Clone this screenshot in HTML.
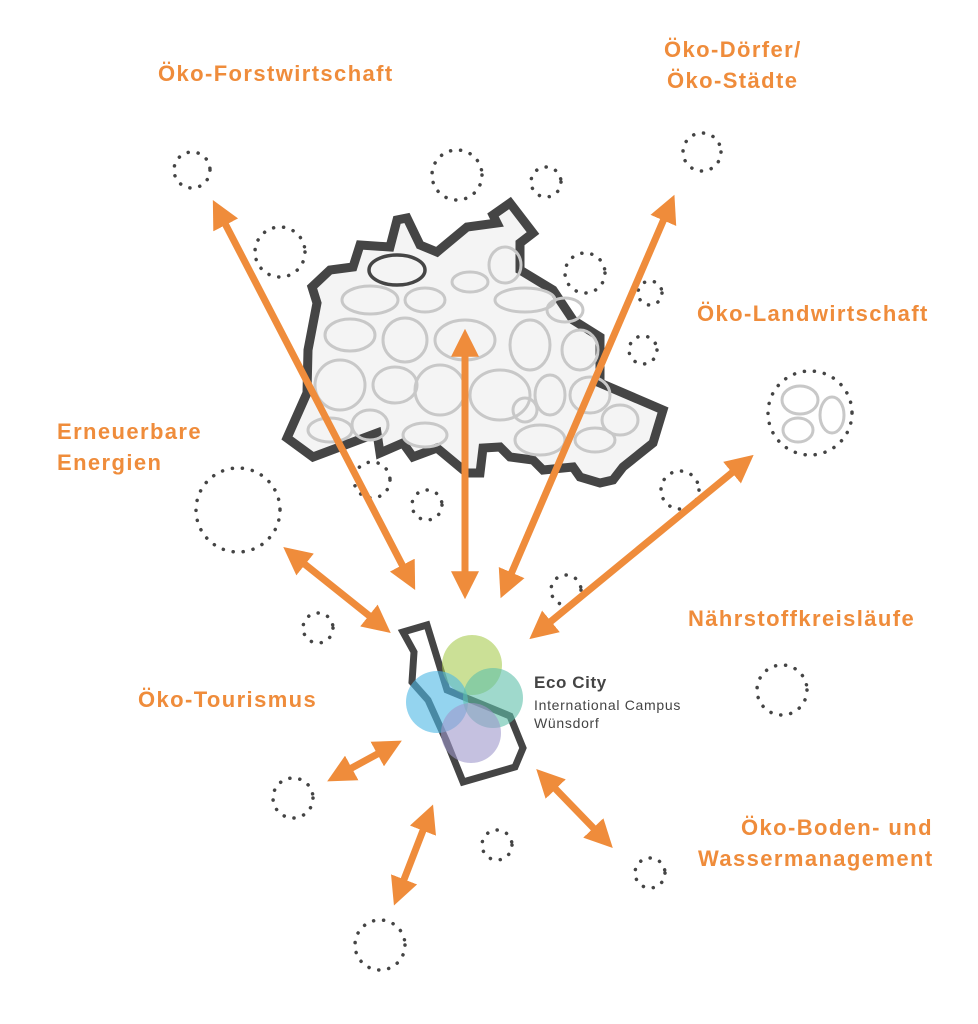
<!DOCTYPE html>
<html><head><meta charset="utf-8"><style>
html,body{margin:0;padding:0;background:#fff}
svg{display:block}
.t{font-family:"Liberation Sans",sans-serif;font-weight:bold;fill:#ef8c3b;font-size:22px;letter-spacing:1.4px}
.d{fill:none;stroke:#444;stroke-width:3.5;stroke-dasharray:0.1 10;stroke-linecap:round}
.b{fill:none;stroke:#c8c8c8;stroke-width:3}
</style></head><body>
<svg width="978" height="1024" viewBox="0 0 978 1024" xmlns="http://www.w3.org/2000/svg">
<defs>
<marker id="ah" viewBox="0 0 10 10" refX="6" refY="5" markerWidth="4" markerHeight="4" orient="auto-start-reverse"><path d="M0,0 L10,5 L0,10 z" fill="#ef8c3b"/></marker>
</defs>
<polygon points="287,438 313,457 377,433 380,453 403,443 413,457 437,448 467,473 480,473 483,448 500,447 510,457 533,460 543,470 573,467 580,477 600,483 613,480 623,467 653,443 663,410 600,383 600,337 573,320 553,290 520,270 520,243 533,233 510,203 493,215 497,223 467,227 437,252 420,245 407,218 397,220 390,247 360,245 353,267 330,270 312,287 317,303 308,350 307,393" fill="#f4f4f4" stroke="#454545" stroke-width="9" stroke-linejoin="miter"/>
<g class="b">
<ellipse cx="370" cy="300" rx="28" ry="14"/><ellipse cx="425" cy="300" rx="20" ry="12"/><ellipse cx="470" cy="282" rx="18" ry="10"/>
<ellipse cx="505" cy="265" rx="16" ry="18"/><ellipse cx="525" cy="300" rx="30" ry="12"/><ellipse cx="565" cy="310" rx="18" ry="12"/>
<ellipse cx="350" cy="335" rx="25" ry="16"/><ellipse cx="405" cy="340" rx="22" ry="22"/><ellipse cx="465" cy="340" rx="30" ry="20"/>
<ellipse cx="530" cy="345" rx="20" ry="25"/><ellipse cx="580" cy="350" rx="18" ry="20"/><ellipse cx="340" cy="385" rx="25" ry="25"/>
<ellipse cx="395" cy="385" rx="22" ry="18"/><ellipse cx="440" cy="390" rx="25" ry="25"/><ellipse cx="500" cy="395" rx="30" ry="25"/>
<ellipse cx="550" cy="395" rx="15" ry="20"/><ellipse cx="590" cy="395" rx="20" ry="18"/><ellipse cx="620" cy="420" rx="18" ry="15"/>
<ellipse cx="330" cy="430" rx="22" ry="12"/><ellipse cx="370" cy="425" rx="18" ry="15"/><ellipse cx="425" cy="435" rx="22" ry="12"/>
<ellipse cx="540" cy="440" rx="25" ry="15"/><ellipse cx="595" cy="440" rx="20" ry="12"/><ellipse cx="525" cy="410" rx="12" ry="12"/>
</g>
<ellipse cx="397" cy="270" rx="28" ry="15" fill="none" stroke="#454545" stroke-width="3.5"/>
<g class="d">
<circle cx="192" cy="170" r="18"/><circle cx="280" cy="252" r="25"/><circle cx="457" cy="175" r="25"/><circle cx="546" cy="182" r="15"/>
<circle cx="702" cy="152" r="19"/><circle cx="585" cy="273" r="20"/><circle cx="643" cy="350" r="14"/><circle cx="650" cy="293" r="12"/>
<circle cx="810" cy="413" r="42"/><circle cx="238" cy="510" r="42"/><circle cx="427" cy="505" r="15"/><circle cx="372" cy="480" r="18"/>
<circle cx="680" cy="490" r="19"/><circle cx="318" cy="628" r="15"/><circle cx="566" cy="590" r="15"/><circle cx="782" cy="690" r="25"/>
<circle cx="293" cy="798" r="20"/><circle cx="497" cy="845" r="15"/><circle cx="650" cy="873" r="15"/><circle cx="380" cy="945" r="25"/>
</g>
<g class="b"><ellipse cx="800" cy="400" rx="18" ry="14"/><ellipse cx="832" cy="415" rx="12" ry="18"/><ellipse cx="798" cy="430" rx="15" ry="12"/></g>
<g stroke="#ef8c3b" stroke-width="7" marker-start="url(#ah)" marker-end="url(#ah)">
<line x1="218" y1="210" x2="410" y2="580"/>
<line x1="465" y1="340" x2="465" y2="588"/>
<line x1="670" y1="205" x2="505" y2="588"/>
<line x1="745" y1="462" x2="538" y2="632"/>
<line x1="292" y1="554" x2="382" y2="626"/>
<line x1="337" y1="776" x2="392" y2="746"/>
<line x1="429" y1="815" x2="398" y2="895"/>
<line x1="544" y1="777" x2="605" y2="840"/>
</g>
<polygon points="403,632 427,625 447,690 510,716 523,748 515,767 463,782 446,740 428,700 412,682 414,652" fill="none" stroke="#454545" stroke-width="7" stroke-linejoin="miter"/>
<g fill-opacity="0.6">
<circle cx="472" cy="665" r="30" fill="#a8cc50"/>
<circle cx="437" cy="702" r="31" fill="#4cb8e5"/>
<circle cx="493" cy="698" r="30" fill="#5fc0aa"/>
<circle cx="471" cy="733" r="30" fill="#9e98cb"/>
</g>
<text x="534" y="688" font-family="Liberation Sans,sans-serif" font-weight="bold" font-size="17" letter-spacing="0.6" fill="#444">Eco City</text>
<text x="534" y="710" font-family="Liberation Sans,sans-serif" font-size="14" letter-spacing="0.7" fill="#444">International Campus</text>
<text x="534" y="728" font-family="Liberation Sans,sans-serif" font-size="14" letter-spacing="0.7" fill="#444">Wünsdorf</text>
<text class="t" x="158" y="81">Öko-Forstwirtschaft</text>
<text class="t" x="664" y="57">Öko-Dörfer/</text>
<text class="t" x="667" y="88">Öko-Städte</text>
<text class="t" x="697" y="321">Öko-Landwirtschaft</text>
<text class="t" x="57" y="439">Erneuerbare</text>
<text class="t" x="57" y="470">Energien</text>
<text class="t" x="688" y="626">Nährstoffkreisläufe</text>
<text class="t" x="138" y="707">Öko-Tourismus</text>
<text class="t" x="741" y="835">Öko-Boden- und</text>
<text class="t" x="698" y="866">Wassermanagement</text>
</svg>
</body></html>
